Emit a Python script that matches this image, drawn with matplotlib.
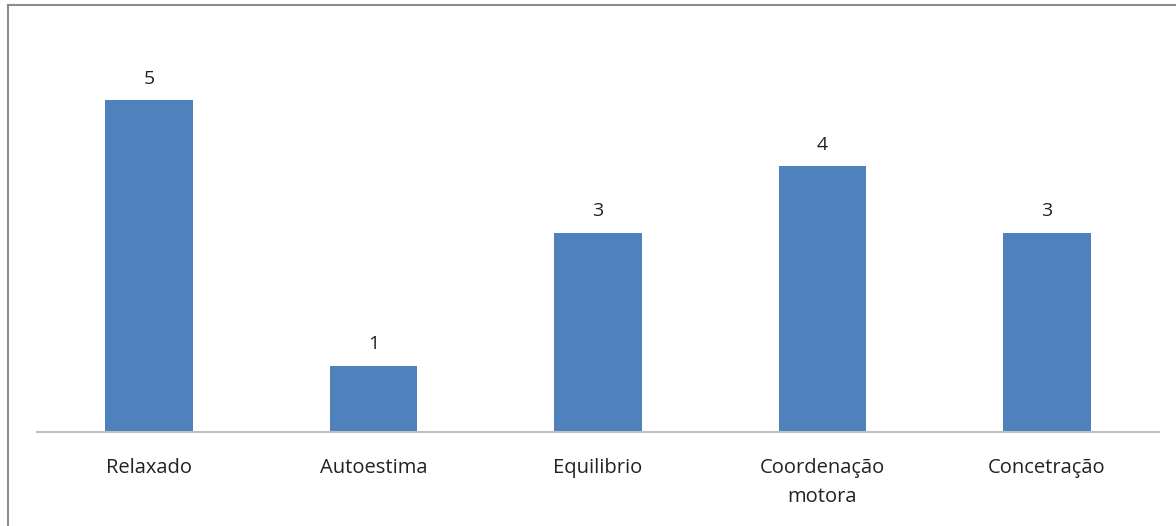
import matplotlib.pyplot as plt
from matplotlib.lines import Line2D

categorias = ["Relaxado", "Autoestima", "Equilibrio", "Coordenação\nmotora", "Concetração"]
valores = [5, 1, 3, 4, 3]

plt.rcParams['font.family'] = ['Open Sans', 'DejaVu Sans']

fig = plt.figure(figsize=(11.76, 5.26), dpi=100)
ax = fig.add_axes([0.0315, 0.1787, 0.954, 0.7574])

x = range(len(categorias))
barras = ax.bar(x, valores, width=0.39, color='#4F81BD')

for b, v in zip(barras, valores):
    ax.annotate(str(v), (b.get_x() + b.get_width() / 2, v),
                xytext=(0, 9), textcoords='offset points',
                ha='center', va='bottom', fontsize=14, color='#222222')

ax.set_xlim(-0.5, len(categorias) - 0.5)
ax.set_ylim(0, 6)
ax.set_xticks(list(x))
ax.set_xticklabels(categorias, fontsize=14.5, color='#222222', linespacing=1.6)
ax.tick_params(axis='x', length=0, pad=19)
ax.set_yticks([])

for s in ['top', 'right', 'left']:
    ax.spines[s].set_visible(False)
ax.spines['bottom'].set_color('#BFBFBF')
ax.spines['bottom'].set_linewidth(1.5)

# moldura do gráfico (apenas topo e esquerda visíveis)
fig.add_artist(Line2D([8 / 1176, 8 / 1176], [0, 1 - 5 / 526], transform=fig.transFigure,
                      color='#8C8C8C', linewidth=1.5))
fig.add_artist(Line2D([8 / 1176, 1], [1 - 5 / 526, 1 - 5 / 526], transform=fig.transFigure,
                      color='#8C8C8C', linewidth=1.5))

fig.savefig("out.png", dpi=100)
